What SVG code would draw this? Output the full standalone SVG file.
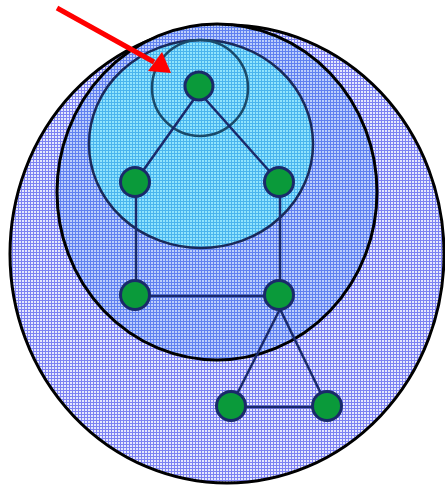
<svg xmlns="http://www.w3.org/2000/svg" width="445" height="486" viewBox="0 0 445 486">
<defs>
<pattern id="p1" width="3" height="3" patternUnits="userSpaceOnUse">
<rect width="3" height="3" fill="#e6e8fd"/>
<rect width="3" height="1" fill="#7c82f2"/>
<rect width="1" height="3" fill="#7c82f2"/>
</pattern>
<pattern id="p2" width="3" height="3" patternUnits="userSpaceOnUse">
<rect width="3" height="3" fill="#bccefb"/>
<rect width="3" height="1" fill="#6080f0"/>
<rect width="1" height="3" fill="#6080f0"/>
</pattern>
<pattern id="p3" width="3" height="3" patternUnits="userSpaceOnUse">
<rect width="3" height="3" fill="#90e4fc"/>
<rect width="3" height="1" fill="#4ab4ee"/>
<rect width="1" height="3" fill="#4ab4ee"/>
</pattern>
<style>
.edge{stroke:#1a2a6a;stroke-width:2.5;fill:none}
.node{fill:#0a9a3a;stroke:#1a2a6a;stroke-width:3}
</style>
</defs>
<g id="region-outer"><ellipse cx="227" cy="254" rx="217" ry="229" fill="url(#p1)" stroke="#000" stroke-width="3"/></g>
<g id="region-middle"><ellipse cx="217" cy="192" rx="160" ry="168" fill="url(#p2)" stroke="#000" stroke-width="3"/></g>
<g id="region-inner"><ellipse cx="201" cy="144" rx="112" ry="104" fill="url(#p3)" stroke="#1a2a5a" stroke-width="2.5"/></g>
<g id="region-core"><circle cx="200" cy="88" r="48" fill="none" stroke="#1a4a6a" stroke-width="2.5"/></g>
<g id="connectors">
<line class="edge" x1="199" y1="92" x2="135" y2="182"/>
<line class="edge" x1="199" y1="92" x2="279" y2="182"/>
<line class="edge" x1="136" y1="182" x2="136" y2="295"/>
<line class="edge" x1="280" y1="182" x2="280" y2="295"/>
<line class="edge" x1="135" y1="296" x2="279" y2="296"/>
<line class="edge" x1="280" y1="309" x2="231" y2="406"/>
<line class="edge" x1="280" y1="309" x2="327" y2="406"/>
<line class="edge" x1="231" y1="407" x2="327" y2="407"/>
</g>
<g id="n1"><circle class="node" cx="199" cy="86" r="14"/></g>
<g id="n2"><circle class="node" cx="135" cy="182" r="14.5"/></g>
<g id="n3"><circle class="node" cx="279" cy="182" r="14.5"/></g>
<g id="n4"><circle class="node" cx="135" cy="295" r="14.5"/></g>
<g id="n5"><circle class="node" cx="279" cy="295" r="14.5"/></g>
<g id="n6"><circle class="node" cx="231" cy="406" r="14.5"/></g>
<g id="n7"><circle class="node" cx="327" cy="406" r="14.5"/></g>
<g id="arrow"><line x1="57" y1="8" x2="154" y2="62" stroke="#ff0000" stroke-width="5"/><polygon points="171,73 148,71 162,52" fill="#ff0000"/></g>
</svg>
